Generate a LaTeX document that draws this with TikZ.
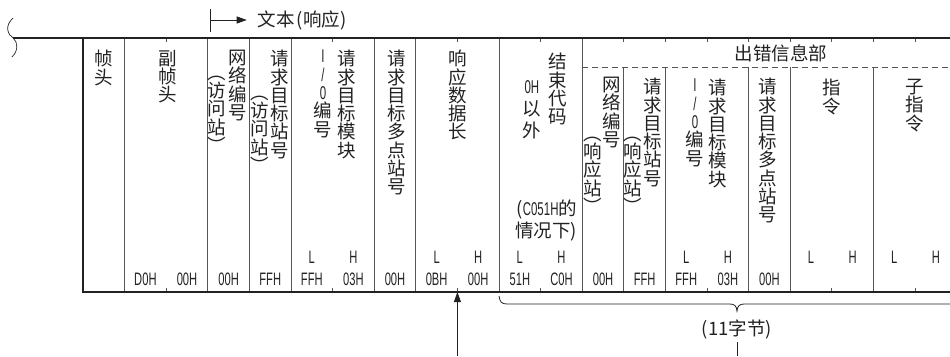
\documentclass[tikz,border=0pt]{standalone}
\usepackage{fontspec}
\setmainfont{Noto Sans CJK SC}
\newfontfamily\hexfont[FakeStretch=0.62]{Liberation Sans}
\usetikzlibrary{arrows.meta}
\definecolor{ink}{HTML}{222222}
\definecolor{rulegray}{HTML}{555555}
\tikzset{
  frame/.style={line width=1.8pt, ink},
  cell/.style={line width=0.8pt, rulegray},
  arrow/.style={line width=0.8pt, ink, -{Triangle[length=10pt,width=7pt]}},
  vcol/.style={align=center, anchor=north, inner sep=0pt,
    font=\fontsize{18.5}{18.3}\selectfont, execute at begin node={\vphantom{国}}},
  hexval/.style={inner sep=0pt, font=\hexfont\fontsize{18}{18}\selectfont},
}
\begin{document}
\begin{tikzpicture}[x=41.6pt, y=-1pt, color=ink]
\useasboundingbox (-1.995,-38) rectangle (20.84,318);

\foreach \x in {1,3,4,5,7,8,10,12} \draw[cell] (\x,0) -- (\x,254);
\foreach \x in {13,14,16,17,19} \draw[cell] (\x,29) -- (\x,254);
\draw[cell, dash pattern=on 6pt off 4pt] (12,29) -- (20.84,29);
\foreach \x in {2,6,9,11,13,14,15,16,17,18,19,20} \draw[cell] (\x,0) -- (\x,4);
\foreach \x in {2,6,9,11,15,18,20} \draw[cell] (\x,250) -- (\x,254);

\draw[line width=0.7pt] (-1.68,-20) .. controls (-1.90,-12) and (-1.80,-3) .. (-1.68,0)
  .. controls (-1.56,4) and (-1.55,13) .. (-1.71,19);
\draw[frame] (-1.68,0) -- (20.84,0);
\draw[frame] (0,0) -- (0,254) -- (20.84,254);

\coordinate (bartop) at (3.07,-29);
\coordinate (barfoot) at (3.07,-6);
\coordinate (arrowstart) at (3.07,-18);
\draw[line width=0.8pt] (bartop) -- (barfoot);
\node[anchor=west, inner sep=0pt, font=\fontsize{18.5}{18}\selectfont] (resp) at (4.2,-18) {文本\hspace{2pt}(响应)};
\draw[arrow] (arrowstart) -- ([xshift=-11pt]resp.west);

\node[font=\fontsize{18.5}{18}\selectfont] (errinfo) at (16.78,15) {出错信息部};

\node[vcol] (frmhdr) at (0.5,12) {帧\\头};
\node[vcol] (subhdr) at (2.04,12) {副\\帧\\头};
\node[vcol] (netno) at (3.73,12) {网\\络\\编\\号};
\node[vcol] (netnoreq) at (3.22,37.7) {︵\\访\\问\\站\\︶};
\node[vcol] (stno) at (4.74,12) {请\\求\\目\\标\\站\\号};
\node[vcol] (stnoreq) at (4.25,57.7) {︵\\访\\问\\站\\︶};
\node[vcol] (iono) at (5.77,12) {{\hexfont I}\\{\hexfont /}\\{\hexfont 0}\\编\\号};
\node[vcol] (module) at (6.35,12) {请\\求\\目\\标\\模\\块};
\node[vcol] (multidrop) at (7.55,12) {请\\求\\目\\标\\多\\点\\站\\号};
\node[vcol] (datalen) at (9,12) {响\\应\\数\\据\\长};
\node[vcol] (endcode) at (11.42,15) {结\\束\\代\\码};
\node[vcol, font=\fontsize{18.5}{22}\selectfont] (notzero) at (10.79,42) {{\hexfont 0H}\\以\\外};
\node[align=right, anchor=north east, inner sep=0pt, font=\fontsize{18.5}{22}\selectfont] (c051) at (11.88,162) {({\hexfont C051H}的\\情况下)};

\node[vcol] (errnet) at (12.72,39) {网\\络\\编\\号};
\node[vcol] (errnetresp) at (12.26,98.7) {︵\\响\\应\\站\\︶};
\node[vcol] (errst) at (13.70,40) {请\\求\\目\\标\\站\\号};
\node[vcol] (errstresp) at (13.22,98.7) {︵\\响\\应\\站\\︶};
\node[vcol] (erriono) at (14.71,41) {{\hexfont I}\\{\hexfont /}\\{\hexfont 0}\\编\\号};
\node[vcol] (errmodule) at (15.26,41) {请\\求\\目\\标\\模\\块};
\node[vcol] (errdrop) at (16.47,40) {请\\求\\目\\标\\多\\点\\站\\号};
\node[vcol] (cmd) at (18,41) {指\\令};
\node[vcol] (subcmd) at (20,41) {子\\指\\令};

\foreach \x [count=\i] in {5.5,8.5,10.5,14.5,17.5,19.5} {
  \node[hexval] (lo\i) at (\x,219) {L};
  \node[hexval] (hi\i) at (\x+1,219) {H};
}
\foreach \x/\v [count=\i] in {1.5/D0H,2.5/00H,3.5/00H,4.5/FFH,5.5/FFH,6.5/03H,7.5/00H,
  8.5/0BH,9.5/00H,10.5/51H,11.5/C0H,12.5/00H,13.5/FFH,14.5/FFH,15.5/03H,16.5/00H}
  \node[hexval] (val\i) at (\x,241) {\v};

\coordinate (lenfoot) at (9,318);
\coordinate (lentip) at (9,254);
\draw[arrow] (lenfoot) -- (lentip);

\draw[line width=0.8pt] (10,258) .. controls (10.02,264) and (10.06,266) .. (10.2,266) -- (15.55,266)
  .. controls (15.66,266) and (15.71,268) .. (15.72,273)
  .. controls (15.73,268) and (15.78,266) .. (15.89,266) -- (20.84,266);
\node[font=\fontsize{18.5}{18}\selectfont] (bytes) at (15.72,291) {(11字节)};
\coordinate (bytesfoot) at (15.72,318);
\draw[line width=0.8pt] (bytes.south) -- (bytesfoot);

\end{tikzpicture}
\end{document}
